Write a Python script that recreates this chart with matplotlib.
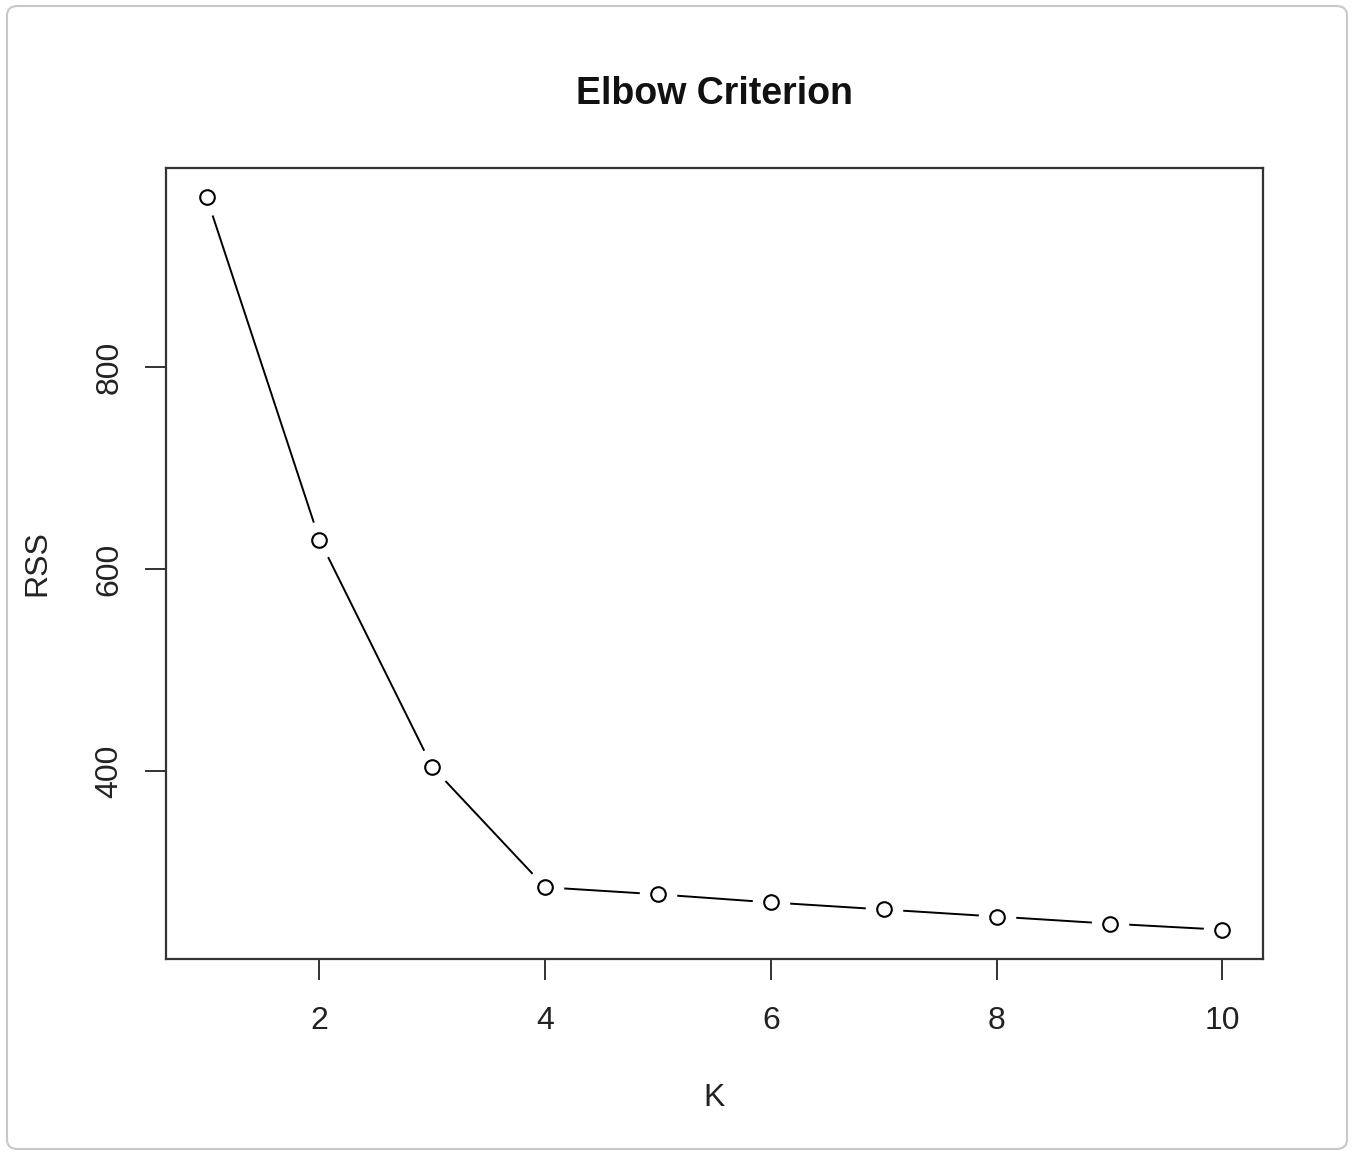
import matplotlib
matplotlib.use("Agg")
import matplotlib.pyplot as plt
from matplotlib.patches import FancyBboxPatch

k_values = [1, 2, 3, 4, 5, 6, 7, 8, 9, 10]
rss_values = [968, 629, 404, 285, 278, 270, 263, 256, 249, 243]
x_ticks = [2, 4, 6, 8, 10]
y_ticks = [400, 600, 800]

plt.rcParams['font.family'] = ['Liberation Sans', 'DejaVu Sans']

W, H = 1353, 1155
fig = plt.figure(figsize=(W / 100, H / 100), dpi=100)

# light rounded frame around the whole figure
frame = FancyBboxPatch((7 / W, 6 / H), 1340 / W, 1143 / H,
                       boxstyle="round,pad=0,rounding_size=0.008",
                       transform=fig.transFigure, fill=False,
                       edgecolor="#c8c8c8", linewidth=1.5)
fig.add_artist(frame)

ax = fig.add_axes([166 / W, 1 - 959 / H, (1263 - 166) / W, (959 - 168) / H])

# R-style "both" plot: line segments with gaps around the open circles
ax.plot(k_values, rss_values, color="black", linewidth=1.4, zorder=2)
ax.plot(k_values, rss_values, linestyle="none", marker="o", markersize=27,
        markerfacecolor="white", markeredgecolor="none", zorder=3)
ax.plot(k_values, rss_values, linestyle="none", marker="o", markersize=10.5,
        markerfacecolor="white", markeredgecolor="black", markeredgewidth=1.5,
        zorder=4)

span_x = max(k_values) - min(k_values)
span_y = max(rss_values) - min(rss_values)
ax.set_xlim(min(k_values) - 0.04 * span_x, max(k_values) + 0.04 * span_x)
ax.set_ylim(min(rss_values) - 0.04 * span_y, max(rss_values) + 0.04 * span_y)

ax.set_xticks(x_ticks)
ax.set_yticks(y_ticks)
ax.set_xticklabels([str(v) for v in x_ticks])
ax.set_yticklabels([str(v) for v in y_ticks], rotation=90, va="center")
ax.tick_params(axis="both", direction="out", length=15, width=1.4,
               labelsize=23, color="#333333", labelcolor="#222222")
ax.tick_params(axis="x", pad=19)
ax.tick_params(axis="y", pad=15)

for s in ax.spines.values():
    s.set_linewidth(1.6)
    s.set_color("#333333")

ax.set_xlabel("K", fontsize=23, labelpad=34, color="#222222")
ax.set_ylabel("RSS", fontsize=23, labelpad=30, color="#222222")
fig.text(714 / W, 1 - 94 / H, "Elbow Criterion", ha="center", va="center",
         fontsize=27, fontweight="bold", color="#111111")

fig.savefig("out.png", dpi=100, facecolor="white")
